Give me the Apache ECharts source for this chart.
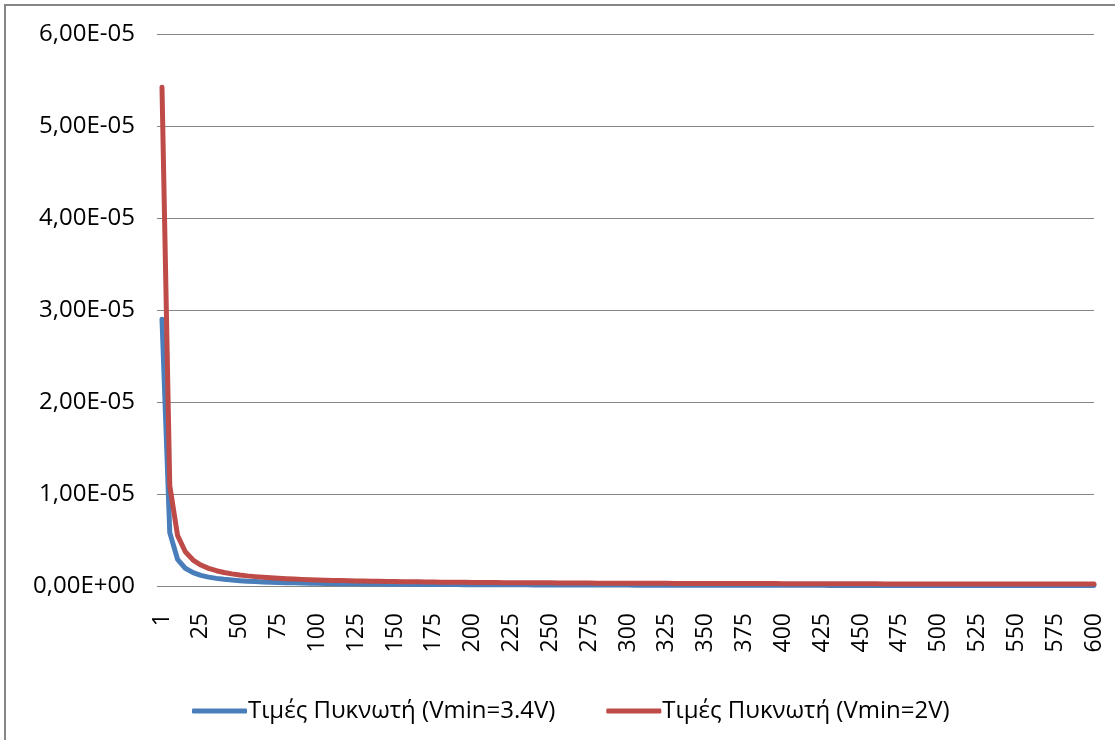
<!DOCTYPE html>
<html>
<head>
<meta charset="utf-8">
<script src="https://cdn.jsdelivr.net/npm/echarts@6/dist/echarts.min.js"></script>
<style>
html,body{margin:0;padding:0;background:#fff;}
#chart{width:1115px;height:740px;}
</style>
</head>
<body>
<div id="chart"></div>
<script>
var categories = [1,5,10,15,20,25,30,35,40,45,50,55,60,65,70,75,80,85,90,95,100,
105,110,115,120,125,130,135,140,145,150,155,160,165,170,175,180,185,190,195,200,
205,210,215,220,225,230,235,240,245,250,255,260,265,270,275,280,285,290,295,300,
305,310,315,320,325,330,335,340,345,350,355,360,365,370,375,380,385,390,395,400,
405,410,415,420,425,430,435,440,445,450,455,460,465,470,475,480,485,490,495,500,
505,510,515,520,525,530,535,540,545,550,555,560,565,570,575,580,585,590,595,600];

var seriesNames = ['Τιμές Πυκνωτή (Vmin=3.4V)', 'Τιμές Πυκνωτή (Vmin=2V)'];

var valuesV34 = [2.90e-5,5.80e-6,2.90e-6,1.93e-6,1.45e-6,1.16e-6,9.67e-7,8.29e-7,7.25e-7,6.44e-7,5.80e-7,
5.27e-7,4.83e-7,4.46e-7,4.14e-7,3.87e-7,3.63e-7,3.41e-7,3.22e-7,3.05e-7,2.90e-7,
2.76e-7,2.64e-7,2.52e-7,2.42e-7,2.32e-7,2.23e-7,2.15e-7,2.07e-7,2.00e-7,1.93e-7,
1.87e-7,1.81e-7,1.76e-7,1.71e-7,1.66e-7,1.61e-7,1.57e-7,1.53e-7,1.49e-7,1.45e-7,
1.41e-7,1.38e-7,1.35e-7,1.32e-7,1.29e-7,1.26e-7,1.23e-7,1.21e-7,1.18e-7,1.16e-7,
1.14e-7,1.12e-7,1.09e-7,1.07e-7,1.05e-7,1.04e-7,1.02e-7,1.00e-7,9.8e-8,9.7e-8,
9.5e-8,9.4e-8,9.2e-8,9.1e-8,8.9e-8,8.8e-8,8.7e-8,8.5e-8,8.4e-8,8.3e-8,
8.2e-8,8.1e-8,7.9e-8,7.8e-8,7.7e-8,7.6e-8,7.5e-8,7.4e-8,7.3e-8,7.3e-8,
7.2e-8,7.1e-8,7.0e-8,6.9e-8,6.8e-8,6.7e-8,6.7e-8,6.6e-8,6.5e-8,6.4e-8,
6.4e-8,6.3e-8,6.2e-8,6.2e-8,6.1e-8,6.0e-8,6.0e-8,5.9e-8,5.9e-8,5.8e-8,
5.7e-8,5.7e-8,5.6e-8,5.6e-8,5.5e-8,5.5e-8,5.4e-8,5.4e-8,5.3e-8,5.3e-8,
5.2e-8,5.2e-8,5.1e-8,5.1e-8,5.0e-8,5.0e-8,5.0e-8,4.9e-8,4.9e-8,4.8e-8];

var valuesV2 = [5.42e-5,1.09e-5,5.5e-6,3.72e-6,2.82e-6,2.28e-6,1.92e-6,1.66e-6,1.47e-6,1.32e-6,1.20e-6,
1.10e-6,1.02e-6,9.5e-7,8.9e-7,8.4e-7,7.9e-7,7.5e-7,7.2e-7,6.9e-7,6.6e-7,
6.3e-7,6.1e-7,5.9e-7,5.7e-7,5.5e-7,5.4e-7,5.2e-7,5.1e-7,4.9e-7,4.8e-7,
4.7e-7,4.6e-7,4.5e-7,4.4e-7,4.3e-7,4.2e-7,4.1e-7,4.0e-7,4.0e-7,3.9e-7,
3.8e-7,3.8e-7,3.7e-7,3.6e-7,3.6e-7,3.5e-7,3.5e-7,3.4e-7,3.4e-7,3.4e-7,
3.3e-7,3.3e-7,3.2e-7,3.2e-7,3.2e-7,3.1e-7,3.1e-7,3.1e-7,3.0e-7,3.0e-7,
3.0e-7,2.9e-7,2.9e-7,2.9e-7,2.9e-7,2.8e-7,2.8e-7,2.8e-7,2.8e-7,2.7e-7,
2.7e-7,2.7e-7,2.7e-7,2.7e-7,2.6e-7,2.6e-7,2.6e-7,2.6e-7,2.6e-7,2.5e-7,
2.5e-7,2.5e-7,2.5e-7,2.5e-7,2.5e-7,2.4e-7,2.4e-7,2.4e-7,2.4e-7,2.4e-7,
2.4e-7,2.4e-7,2.3e-7,2.3e-7,2.3e-7,2.3e-7,2.3e-7,2.3e-7,2.3e-7,2.3e-7,
2.3e-7,2.2e-7,2.2e-7,2.2e-7,2.2e-7,2.2e-7,2.2e-7,2.2e-7,2.2e-7,2.2e-7,
2.1e-7,2.1e-7,2.1e-7,2.1e-7,2.1e-7,2.1e-7,2.1e-7,2.1e-7,2.1e-7,2.1e-7];

var yMin = 0, yMax = 6e-5, yInterval = 1e-5;

function fmtExp(v) {
  if (Math.abs(v) < 1e-12) return '0,00E+00';
  var parts = v.toExponential(2).split('e');
  var mant = parts[0].replace('.', ',');
  var ex = parseInt(parts[1], 10);
  var sign = ex < 0 ? '-' : '+';
  var a = Math.abs(ex);
  return mant + 'E' + sign + (a < 10 ? '0' + a : '' + a);
}

var FONT = '"Open Sans", "Noto Sans", sans-serif';
var chart = echarts.init(document.getElementById('chart'), null, {renderer: 'canvas'});
chart.setOption({
  backgroundColor: '#ffffff',
  animation: false,
  graphic: [{
    type: 'rect',
    shape: {x: 5, y: 5, width: 1200, height: 800},
    style: {fill: 'none', stroke: '#868686', lineWidth: 2},
    silent: true
  }],
  grid: {left: 162, right: 21, top: 34, bottom: 154, containLabel: false},
  legend: {
    left: 187,
    top: 694,
    icon: 'roundRect',
    itemWidth: 55,
    itemHeight: 5,
    itemGap: 51,
    textStyle: {fontFamily: FONT, fontSize: 24, color: '#000', padding: [0, 0, 0, -4]},
    data: seriesNames
  },
  xAxis: {
    type: 'category',
    data: categories,
    boundaryGap: false,
    axisLine: {show: true, lineStyle: {color: '#868686', width: 1}},
    axisTick: {show: false},
    axisLabel: {
      interval: 4,
      rotate: 90,
      margin: 27,
      fontFamily: FONT,
      fontSize: 23,
      color: '#000'
    },
    splitLine: {show: false}
  },
  yAxis: {
    type: 'value',
    min: yMin,
    max: yMax,
    interval: yInterval,
    axisLine: {show: false},
    axisTick: {show: true, length: 5, lineStyle: {color: '#868686', width: 1}},
    axisLabel: {
      formatter: fmtExp,
      fontFamily: FONT,
      fontSize: 24,
      color: '#000',
      margin: 27
    },
    splitLine: {show: true, lineStyle: {color: '#868686', width: 1}}
  },
  series: [{
    name: seriesNames[0],
    type: 'line',
    data: valuesV34,
    symbol: 'none',
    lineStyle: {color: '#4a7ebb', width: 5, cap: 'round', join: 'round'},
    itemStyle: {color: '#4a7ebb'}
  }, {
    name: seriesNames[1],
    type: 'line',
    data: valuesV2,
    symbol: 'none',
    lineStyle: {color: '#be4b48', width: 5, cap: 'round', join: 'round'},
    itemStyle: {color: '#be4b48'}
  }]
});
</script>
</body>
</html>
